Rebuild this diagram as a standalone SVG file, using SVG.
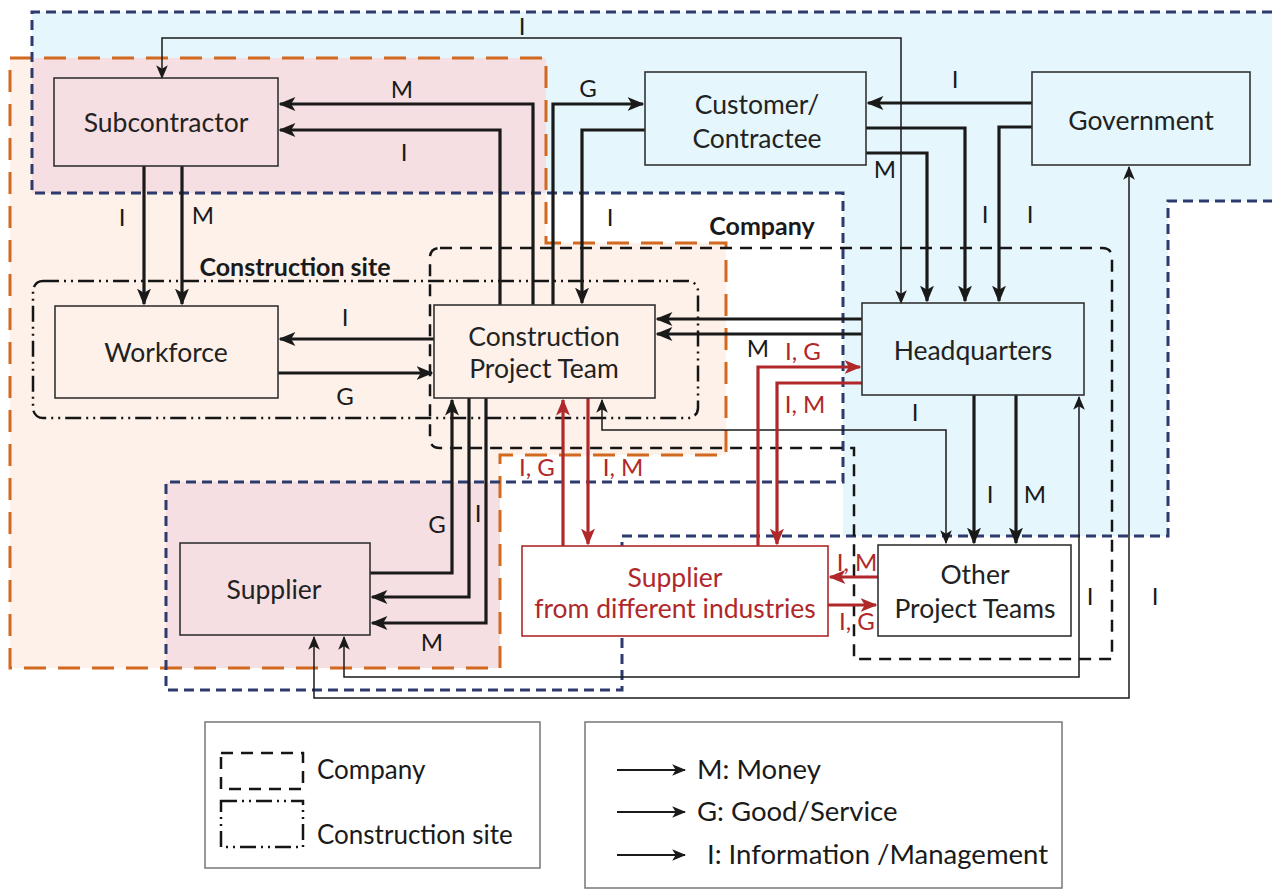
<svg xmlns="http://www.w3.org/2000/svg" width="1272" height="890" viewBox="0 0 1272 890">
  <style>
    .bg { stroke: none; }
    .navy { fill: none; stroke: #2c3a6e; stroke-width: 3; stroke-dasharray: 10 6; }
    .orange { fill: none; stroke: #d2691e; stroke-width: 3; stroke-dasharray: 22 12; }
    .company { fill: none; stroke: #151515; stroke-width: 2.5; stroke-dasharray: 12 8; }
    .site { fill: none; stroke: #151515; stroke-width: 2.5; stroke-dasharray: 16 5 2 5 2 5; }
    .box { fill: none; stroke: #333; stroke-width: 1.6; }
    .rbox { fill: #fff; stroke: #b0282a; stroke-width: 1.6; }
    .name { font-family: Lato, "Liberation Sans", sans-serif; font-size: 26.5px; fill: #222; text-anchor: middle; }
    .rname { font-family: Lato, "Liberation Sans", sans-serif; font-size: 26.5px; fill: #b0282a; text-anchor: middle; }
    .lbl { font-family: Lato, "Liberation Sans", sans-serif; font-size: 24px; fill: #1a1a1a; text-anchor: middle; }
    .rlbl { font-family: Lato, "Liberation Sans", sans-serif; font-size: 24px; fill: #b0282a; text-anchor: middle; }
    .area { font-family: Lato, "Liberation Sans", sans-serif; font-size: 25px; font-weight: bold; fill: #1a1a1a; text-anchor: middle; }
    .leg { font-family: Lato, "Liberation Sans", sans-serif; font-size: 26px; fill: #1a1a1a; }
    .legr { font-family: Lato, "Liberation Sans", sans-serif; font-size: 27.5px; fill: #1a1a1a; }
    .thick { fill: none; stroke: #1a1a1a; stroke-width: 3.2; marker-end: url(#ah); }
    .thin { fill: none; stroke: #1a1a1a; stroke-width: 1.5; marker-start: url(#ahs); marker-end: url(#ahs); }
    .red { fill: none; stroke: #b0282a; stroke-width: 3.2; marker-end: url(#ahr); }
  </style>
  <defs>
    <marker id="ah" viewBox="0 0 12 10" refX="11" refY="5" markerWidth="17" markerHeight="14" markerUnits="userSpaceOnUse" orient="auto">
      <path d="M0,0 L12,5 L0,10 L3,5 Z" fill="#1a1a1a"/>
    </marker>
    <marker id="ahs" viewBox="0 0 12 10" refX="11" refY="5" markerWidth="14" markerHeight="12" markerUnits="userSpaceOnUse" orient="auto-start-reverse">
      <path d="M0,0 L12,5 L0,10 L3,5 Z" fill="#1a1a1a"/>
    </marker>
    <marker id="ahr" viewBox="0 0 12 10" refX="11" refY="5" markerWidth="17" markerHeight="14" markerUnits="userSpaceOnUse" orient="auto">
      <path d="M0,0 L12,5 L0,10 L3,5 Z" fill="#b0282a"/>
    </marker>
  </defs>

  <rect x="0" y="0" width="1272" height="890" fill="#fff"/>

  <!-- background areas -->
  <g id="areas">
    <polygon class="bg" fill="#e5f7fc" points="32,12 1272,12 1272,201 1168,201 1168,536 843,536 843,193 32,193"/>
    <polygon class="bg" fill="#fdf1ea" points="10,58 546,58 546,243 726,243 726,455 500,455 500,668 10,668"/>
    <rect class="bg" fill="#f6dfe3" x="32" y="58" width="514" height="135"/>
    <rect class="bg" fill="#f6dfe3" x="166" y="482" width="334" height="186"/>
    <path class="orange" d="M10,58 H546 V243 H726 V455 H500 V668 H10 Z"/>
    <path class="navy" d="M1272,12 H32 V193 H843 V482 H166 V690 H622 V536 H1168 V201 H1272"/>
    <path class="company" d="M440,248 H1102 Q1112,248 1112,258 V659 H854 V448 H440 Q430,448 430,438 V258 Q430,248 440,248 Z"/>
    <rect class="site" x="33" y="281" width="665" height="137" rx="10"/>
    <text class="area" x="762" y="235">Company</text>
    <text class="area" x="295" y="276">Construction site</text>
  </g>

  <!-- connectors -->
  <g id="connectors">
    <path class="thin" d="M901,303 V38 H162 V78"/>
    <path class="thick" d="M533,305 V104 H280"/>
    <path class="thick" d="M500,305 V130 H280"/>
    <path class="thick" d="M553,305 V104 H643"/>
    <path class="thick" d="M645,130 H582 V303"/>
    <path class="thick" d="M144,166 V304"/>
    <path class="thick" d="M182,166 V304"/>
    <path class="thick" d="M434,339 H280"/>
    <path class="thick" d="M278,373 H432"/>
    <path class="thick" d="M862,319 H657"/>
    <path class="thick" d="M862,334 H657"/>
    <path class="thick" d="M866,153 H927 V301"/>
    <path class="thick" d="M866,128 H965 V301"/>
    <path class="thick" d="M1032,127 H999 V301"/>
    <path class="thick" d="M1032,103 H868"/>
    <path class="thick" d="M974,395 V543"/>
    <path class="thick" d="M1016,395 V543"/>
    <path class="thin" d="M602,400 V430 H946 V543"/>
    <path class="thin" d="M344,637 V677 H1079 V397"/>
    <path class="thin" d="M314,637 V698 H1129 V167"/>
    <path class="thick" d="M370,573 H452 V400"/>
    <path class="thick" d="M469,398 V597 H372"/>
    <path class="thick" d="M486,398 V623 H372"/>
    <path class="red" d="M563,546 V400"/>
    <path class="red" d="M588,398 V544"/>
    <path class="red" d="M758,546 V367 H860"/>
    <path class="red" d="M862,383 H777 V544"/>
    <path class="red" d="M878,577 H830"/>
    <path class="red" d="M828,605 H876"/>

    <text class="lbl" x="522" y="35">I</text>
    <text class="lbl" x="402" y="98">M</text>
    <text class="lbl" x="404" y="161">I</text>
    <text class="lbl" x="588" y="97">G</text>
    <text class="lbl" x="610" y="226">I</text>
    <text class="lbl" x="122" y="226">I</text>
    <text class="lbl" x="203" y="224">M</text>
    <text class="lbl" x="345" y="326">I</text>
    <text class="lbl" x="345" y="405">G</text>
    <text class="lbl" x="758" y="357">M</text>
    <text class="lbl" x="885" y="178">M</text>
    <text class="lbl" x="985" y="223">I</text>
    <text class="lbl" x="1030" y="223">I</text>
    <text class="lbl" x="955" y="88">I</text>
    <text class="lbl" x="990" y="503">I</text>
    <text class="lbl" x="1035" y="503">M</text>
    <text class="lbl" x="915" y="421">I</text>
    <text class="lbl" x="1090" y="605">I</text>
    <text class="lbl" x="1155" y="605">I</text>
    <text class="lbl" x="437" y="533">G</text>
    <text class="lbl" x="478" y="522">I</text>
    <text class="lbl" x="432" y="651">M</text>
    <text class="rlbl" x="537" y="476">I, G</text>
    <text class="rlbl" x="623" y="476">I, M</text>
    <text class="rlbl" x="803" y="360">I, G</text>
    <text class="rlbl" x="805" y="413">I, M</text>
    <text class="rlbl" x="857" y="571">I, M</text>
    <text class="rlbl" x="857" y="630">I, G</text>
  </g>

  <!-- nodes -->
  <g id="subcontractor">
    <rect class="box" x="54" y="78" width="224" height="88"/>
    <text class="name" x="166" y="132">Subcontractor</text>
  </g>
  <g id="customer">
    <rect class="box" x="645" y="72" width="221" height="93"/>
    <text class="name" x="757" y="114">Customer/</text>
    <text class="name" x="757" y="148">Contractee</text>
  </g>
  <g id="government">
    <rect class="box" x="1032" y="72" width="218" height="93"/>
    <text class="name" x="1141" y="130">Government</text>
  </g>
  <g id="workforce">
    <rect class="box" x="55" y="306" width="223" height="92"/>
    <text class="name" x="166" y="362">Workforce</text>
  </g>
  <g id="project-team">
    <rect class="box" x="434" y="305" width="221" height="93"/>
    <text class="name" x="544" y="346">Construction</text>
    <text class="name" x="544" y="378">Project Team</text>
  </g>
  <g id="headquarters">
    <rect class="box" x="862" y="303" width="222" height="92"/>
    <text class="name" x="973" y="360">Headquarters</text>
  </g>
  <g id="supplier">
    <rect class="box" x="180" y="543" width="190" height="92"/>
    <text class="name" x="274" y="599">Supplier</text>
  </g>
  <g id="supplier-industries">
    <rect class="rbox" x="522" y="546" width="306" height="90"/>
    <text class="rname" x="675" y="587">Supplier</text>
    <text class="rname" x="675" y="618">from different industries</text>
  </g>
  <g id="other-teams">
    <rect class="box" x="878" y="545" width="193" height="91" fill="#fff"/>
    <text class="name" x="975" y="584">Other</text>
    <text class="name" x="975" y="618">Project Teams</text>
  </g>

  <!-- legend -->
  <g id="legend-areas">
    <rect x="205" y="722" width="335" height="146" fill="#fff" stroke="#777" stroke-width="1.5"/>
    <rect class="company" x="221" y="753" width="82" height="36"/>
    <text class="leg" x="317" y="779">Company</text>
    <rect class="site" x="221" y="801" width="82" height="46"/>
    <text class="leg" x="317" y="844">Construction site</text>
  </g>
  <g id="legend-flows">
    <rect x="585" y="722" width="477" height="166" fill="#fff" stroke="#777" stroke-width="1.5"/>
    <line x1="617" y1="770" x2="685" y2="770" stroke="#1a1a1a" stroke-width="2" marker-end="url(#ahs)"/>
    <line x1="617" y1="812" x2="685" y2="812" stroke="#1a1a1a" stroke-width="2" marker-end="url(#ahs)"/>
    <line x1="617" y1="855" x2="685" y2="855" stroke="#1a1a1a" stroke-width="2" marker-end="url(#ahs)"/>
    <text class="legr" x="697" y="779">M: Money</text>
    <text class="legr" x="697" y="821">G: Good/Service</text>
    <text class="legr" x="707" y="864">I: Information /Management</text>
  </g>
</svg>
